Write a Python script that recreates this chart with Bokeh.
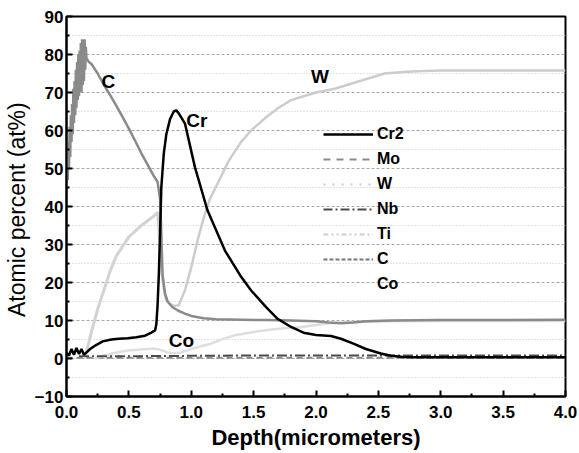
from bokeh.plotting import figure
from bokeh.models import FixedTicker, NumeralTickFormatter, Legend, LegendItem
from bokeh.core.properties import value
from bokeh.embed import file_html
from bokeh.resources import INLINE

# ---- data ----
c_x = [0.000, 0.005, 0.010, 0.015, 0.020, 0.025, 0.030, 0.035, 0.040, 0.045, 0.050, 0.055,
       0.060, 0.065, 0.070, 0.075, 0.080, 0.085, 0.090, 0.095, 0.100, 0.105, 0.110, 0.115,
       0.120, 0.125, 0.130, 0.135, 0.140, 0.145, 0.150, 0.155, 0.160, 0.180, 0.200, 0.250,
       0.300, 0.350, 0.400, 0.450, 0.500, 0.550, 0.600, 0.650, 0.700, 0.730, 0.750, 0.760,
       0.770, 0.790, 0.810, 0.850, 0.900, 0.950, 1.000, 1.100, 1.200, 1.400, 1.600, 1.800,
       2.000, 2.100, 2.200, 2.300, 2.400, 2.600, 3.000, 3.500, 4.000]
c_y = [45, 53, 47, 57, 50, 61, 53, 64, 57, 67, 59, 71,
       62, 73, 64, 76, 66, 78, 68, 80, 69, 81, 71, 83,
       70, 84, 72, 82, 73, 84, 76, 82, 79, 78, 77.5, 75,
       72, 69.3, 66.5, 63.5, 60.5, 57.3, 54, 51, 48, 46.5, 42, 33,
       22, 17, 15, 13.5, 12.5, 11.8, 11.2, 10.6, 10.3, 10.2, 10.1, 10,
       9.8, 9.5, 9.3, 9.5, 9.8, 10, 10.1, 10.1, 10.2]

cr_x = [0.00, 0.02, 0.04, 0.06, 0.08, 0.10, 0.12, 0.14, 0.15, 0.19, 0.23, 0.29, 0.36, 0.42,
        0.49, 0.56, 0.63, 0.68, 0.71, 0.72, 0.73, 0.74, 0.75, 0.76, 0.78, 0.80, 0.83, 0.86,
        0.88, 0.90, 0.95, 1.03, 1.13, 1.27, 1.40, 1.48, 1.60, 1.69, 1.80, 1.90, 2.00, 2.12,
        2.20, 2.30, 2.40, 2.52, 2.60, 2.70, 2.80, 3.00, 3.50, 4.00]
cr_y = [1.5, 0.8, 2.5, 1.0, 2.8, 1.2, 2.5, 1.0, 1.3, 2.5, 3.4, 4.5, 5.0, 5.2,
        5.3, 5.6, 6.0, 6.8, 7.4, 9.0, 14, 22, 33, 45, 54, 59, 63, 65,
        65.3, 64.5, 61.8, 50.3, 39, 28.4, 21.5, 17.9, 13.5, 10.5, 8.3, 6.8, 6.2, 5.9,
        5.2, 3.9, 2.5, 1.3, 0.7, 0.4, 0.3, 0.3, 0.3, 0.3]

ti_x = [0.15, 0.20, 0.25, 0.30, 0.35, 0.40, 0.50, 0.60, 0.70, 0.73, 0.75, 0.76, 0.78, 0.80, 0.83, 0.86]
ti_y = [0.5, 7, 13, 18, 23, 27, 32, 35, 37.5, 38.5, 30, 24, 18.5, 15.5, 14.3, 13.8]

w_x = [0.86, 0.90, 0.95, 1.00, 1.05, 1.10, 1.15, 1.21, 1.30, 1.40, 1.48, 1.60, 1.70, 1.80,
       1.90, 2.00, 2.15, 2.30, 2.45, 2.55, 2.70, 2.81, 3.00, 3.50, 4.00]
w_y = [13.8, 14, 18, 24, 31, 37, 42, 46, 52, 57, 60, 63.5, 66, 68,
       69, 70, 71, 72.5, 74, 75, 75.4, 75.6, 75.8, 75.8, 75.8]

co_x = [0.23, 0.30, 0.40, 0.49, 0.60, 0.71, 0.76, 0.81, 0.86, 0.92, 1.00, 1.10, 1.16, 1.25,
        1.35, 1.50, 1.70, 1.88, 2.00, 2.10, 2.30, 2.60, 3.00, 3.50, 4.00]
co_y = [0, 0.8, 1.6, 2.1, 2.4, 2.6, 2.2, 1.6, 1.4, 1.6, 2.5, 3.4, 3.9, 5.1,
        6.1, 7.0, 7.8, 8.3, 8.8, 9.3, 9.6, 9.8, 9.9, 9.9, 9.9]

nb_x = [0.10, 0.50, 1.00, 1.50, 2.00, 2.50, 3.00, 3.50, 4.00]
nb_y = [0.6, 0.6, 0.7, 0.8, 0.8, 0.8, 0.8, 0.8, 0.8]

mo_x = [0.00, 0.50, 1.00, 1.50, 2.00, 2.50, 3.00, 3.50, 4.00]
mo_y = [0.2, 0.2, 0.2, 0.2, 0.2, 0.2, 0.2, 0.2, 0.2]

legend_names = ["Cr2", "Mo", "W", "Nb", "Ti", "C", "Co"]

note_text = ["C", "Cr", "W", "Co"]
note_x = [0.28, 0.96, 1.96, 0.82]
note_y = [72.8, 62.6, 74.2, 4.7]

x_ticks = [0.0, 0.5, 1.0, 1.5, 2.0, 2.5, 3.0, 3.5, 4.0]
x_minor = [0.25, 0.75, 1.25, 1.75, 2.25, 2.75, 3.25, 3.75]
y_ticks = [-10, 0, 10, 20, 30, 40, 50, 60, 70, 80, 90]
y_minor = [-5, 5, 15, 25, 35, 45, 55, 65, 75, 85]

FONT = "Liberation Sans"

p = figure(width=579, height=453, x_range=(0, 4), y_range=(-10, 90),
           output_backend="svg", toolbar_location=None,
           min_border_left=65, min_border_top=16, min_border_right=14, min_border_bottom=57)

p.outline_line_color = "black"
p.outline_line_width = 2
p.background_fill_color = "white"

# grid
p.xgrid.visible = False
p.ygrid.ticker = FixedTicker(ticks=y_ticks, minor_ticks=y_minor)
p.ygrid.grid_line_color = "#a8a8a8"
p.ygrid.grid_line_dash = "3 2"
p.ygrid.grid_line_width = 1
p.ygrid.minor_grid_line_color = "#c8c8c8"
p.ygrid.minor_grid_line_dash = "1 2"
p.ygrid.minor_grid_line_width = 1

# axes
for ax in (p.xaxis[0], p.yaxis[0]):
    ax.axis_line_width = 2
    ax.axis_line_color = "black"
    ax.major_tick_in = 6
    ax.major_tick_out = 0
    ax.minor_tick_in = 3
    ax.minor_tick_out = 0
    ax.major_tick_line_width = 2
    ax.minor_tick_line_width = 2
    ax.major_label_text_font = FONT
    ax.major_label_text_font_size = "17px"
    ax.major_label_text_font_style = "bold"
    ax.major_label_text_color = "black"
    ax.axis_label_text_font = FONT
    ax.axis_label_text_color = "black"

p.xaxis.ticker = FixedTicker(ticks=x_ticks, minor_ticks=x_minor)
p.xaxis.formatter = NumeralTickFormatter(format="0.0")
p.xaxis.axis_label = "Depth(micrometers)"
p.xaxis.axis_label_text_font_size = "22px"
p.xaxis.axis_label_text_font_style = "bold"
p.xaxis.major_label_standoff = 9
p.xaxis.axis_label_standoff = 4

p.yaxis.ticker = FixedTicker(ticks=y_ticks, minor_ticks=y_minor)
p.yaxis.axis_label = "Atomic percent  (at%)"
p.yaxis.axis_label_text_font_size = "23px"
p.yaxis.axis_label_text_font_style = "normal"
p.yaxis.major_label_standoff = 3
p.yaxis.axis_label_standoff = 2

# curves
p.line(mo_x, mo_y, line_color="#8a8a8a", line_width=2, line_dash="6 4")
p.line(co_x, co_y, line_color="#dedede", line_width=2.5)
p.line(ti_x, ti_y, line_color="#d2d2d2", line_width=3)
p.line(w_x, w_y, line_color="#cccccc", line_width=2.5)
p.line(nb_x, nb_y, line_color="#4a4a4a", line_width=2, line_dash="10 3 2 3")
p.line(c_x, c_y, line_color="#8a8a8a", line_width=2.5)
p.line(cr_x, cr_y, line_color="black", line_width=2.5)

# text annotations on curves
p.text(x=note_x, y=note_y, text=note_text, text_font=value(FONT), text_font_size="19px",
       text_font_style="bold", text_color="black", text_align="left", text_baseline="middle")

# legend (style samples; hidden renderers carrying the series data)
series = [(cr_x, cr_y), (mo_x, mo_y), (w_x, w_y), (nb_x, nb_y), (ti_x, ti_y), (c_x, c_y), (co_x, co_y)]
styles = [
    dict(line_color="black", line_width=2.5, line_dash="solid"),
    dict(line_color="#8a8a8a", line_width=2, line_dash="7 6"),
    dict(line_color="#cccccc", line_width=2, line_dash="2 7"),
    dict(line_color="#4a4a4a", line_width=2, line_dash="9 3 2 3"),
    dict(line_color="#cccccc", line_width=2, line_dash="5 3 2 3 2 3"),
    dict(line_color="#777777", line_width=2, line_dash="4 2"),
    dict(line_color="white", line_width=2, line_dash="solid"),
]
items = []
for name, (sx, sy), st in zip(legend_names, series, styles):
    r = p.line(sx, sy, visible=False, **st)
    items.append(LegendItem(label=name, renderers=[r]))

legend = Legend(items=items, location=(257, 102), orientation="vertical",
                glyph_width=50, glyph_height=20, label_height=20, spacing=5,
                padding=0, margin=0, label_standoff=4,
                background_fill_alpha=0, border_line_alpha=0,
                inactive_fill_alpha=0, click_policy="none",
                label_text_font=FONT, label_text_font_size="16px",
                label_text_font_style="bold", label_text_color="black")
p.add_layout(legend, "center")

open("out.html", "w").write(file_html(p, INLINE))
